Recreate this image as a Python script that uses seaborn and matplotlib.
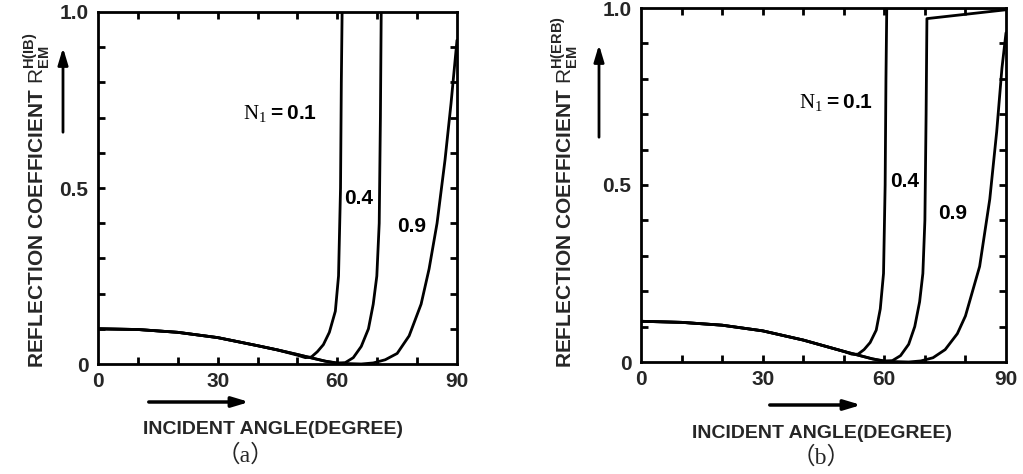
import numpy as np
import pandas as pd
import matplotlib
matplotlib.use("Agg")
import matplotlib.pyplot as plt
import seaborn as sns

sns.set_theme(style="ticks")
plt.rcParams['font.family'] = ['Liberation Sans', 'DejaVu Sans']
plt.rcParams['mathtext.fontset'] = 'custom'
plt.rcParams['mathtext.rm'] = 'Liberation Serif'
plt.rcParams['mathtext.sf'] = 'Liberation Sans'
plt.rcParams['mathtext.bf'] = 'Liberation Sans:bold'

# ---------------- data ----------------
# panel (a)
a_n01_x = [0, 10, 20, 30, 40, 45, 50, 52, 53.5, 55, 56.5, 58, 59.5, 60.3, 60.8, 61.0, 61.2]
a_n01_y = [0.10, 0.098, 0.09, 0.075, 0.052, 0.04, 0.025, 0.018, 0.02, 0.035, 0.055, 0.09, 0.15, 0.25, 0.5, 0.8, 1.0]
a_n04_x = [0, 10, 20, 30, 40, 45, 50, 54, 57, 60, 62, 64, 66, 67.8, 69.0, 69.9, 70.5, 70.8, 71.0]
a_n04_y = [0.10, 0.098, 0.09, 0.075, 0.052, 0.04, 0.027, 0.016, 0.008, 0.002, 0.004, 0.018, 0.05, 0.1, 0.17, 0.25, 0.4, 0.7, 1.0]
a_n09_x = [0, 10, 20, 30, 40, 45, 50, 54, 57, 60, 63, 66, 69, 72, 75, 78, 81, 83, 85, 87, 88.5, 90]
a_n09_y = [0.10, 0.098, 0.09, 0.075, 0.052, 0.04, 0.027, 0.016, 0.008, 0.003, 0.001, 0.0, 0.003, 0.012, 0.03, 0.08, 0.17, 0.27, 0.4, 0.58, 0.74, 0.92]

# panel (b)
b_n01_x = [0, 10, 20, 30, 40, 45, 50, 52, 53.5, 55, 56.5, 58, 59, 59.8, 60.2, 60.4, 60.6, 75, 90]
b_n01_y = [0.115, 0.112, 0.104, 0.088, 0.062, 0.046, 0.03, 0.022, 0.022, 0.035, 0.055, 0.09, 0.15, 0.25, 0.5, 0.8, 1.0, 1.0, 1.0]
b_n04_x = [0, 10, 20, 30, 40, 45, 50, 54, 57, 60, 62, 64, 66, 67.5, 68.7, 69.5, 70, 70.3, 70.5, 90]
b_n04_y = [0.115, 0.112, 0.104, 0.088, 0.062, 0.046, 0.03, 0.018, 0.009, 0.002, 0.004, 0.018, 0.05, 0.1, 0.17, 0.25, 0.4, 0.7, 0.97, 0.995]
b_n09_x = [0, 10, 20, 30, 40, 45, 50, 54, 57, 60, 63, 66, 69, 72, 75, 78, 80, 83.5, 86, 87.7, 89, 90]
b_n09_y = [0.115, 0.112, 0.104, 0.088, 0.062, 0.046, 0.03, 0.018, 0.009, 0.003, 0.001, 0.0, 0.003, 0.012, 0.035, 0.08, 0.13, 0.27, 0.46, 0.65, 0.83, 0.93]

x_ticks = [0, 30, 60, 90]
x_tick_labels = ["0", "30", "60", "90"]
y_ticks = [0, 0.5, 1.0]
y_tick_labels = ["0", "0.5", "1.0"]
x_tick_marks = [10, 20, 30, 40, 50, 60, 70, 80]
y_tick_marks = [0.1, 0.2, 0.3, 0.4, 0.5, 0.6, 0.7, 0.8, 0.9]

W, H = 1023, 474

panels = [
    dict(curves=[(a_n01_x, a_n01_y), (a_n04_x, a_n04_y), (a_n09_x, a_n09_y)],
         rect=[98 / W, 110 / H, 359 / W, 352 / H], sup="H(IB)", tag="（a）",
         labels=[(36.4, 0.71, "0.1"), (61.6, 0.47, "0.4"), (75.0, 0.39, "0.9")]),
    dict(curves=[(b_n01_x, b_n01_y), (b_n04_x, b_n04_y), (b_n09_x, b_n09_y)],
         rect=[641 / W, 112 / H, 365 / W, 354 / H], sup="H(ERB)", tag="（b）",
         labels=[(39.0, 0.73, "0.1"), (61.4, 0.51, "0.4"), (73.2, 0.42, "0.9")]),
]

fig = plt.figure(figsize=(W / 100, H / 100), dpi=100)

def fx(px):
    return px / W

def fy(py):
    return 1 - py / H

TICK_PX = 7

for i, p in enumerate(panels):
    ax = fig.add_axes(p["rect"])
    for cx, cy in p["curves"]:
        sns.lineplot(x=cx, y=cy, ax=ax, color="black", lw=2.0,
                     estimator=None, sort=False)
    ax.set_xlim(0, 90)
    ax.set_ylim(0, 1.0)
    ax.set_xticks(x_ticks)
    ax.set_yticks(y_ticks)
    ax.set_xticklabels(x_tick_labels, fontsize=15, fontweight="bold")
    ax.set_yticklabels(y_tick_labels, fontsize=15, fontweight="bold")
    ax.tick_params(axis="x", which="both", length=0, pad=6)
    ax.tick_params(axis="y", which="both", length=0, pad=7)
    for s in ax.spines.values():
        s.set_linewidth(2)
        s.set_color("black")

    # inward tick marks on all four sides (axis-fraction lengths)
    w_px = p["rect"][2] * W
    h_px = p["rect"][3] * H
    lx_frac = TICK_PX / h_px
    ly_frac = TICK_PX / w_px
    xt = ax.get_xaxis_transform()
    yt = ax.get_yaxis_transform()
    ax.vlines(x_tick_marks, 0, lx_frac, transform=xt, colors="black", lw=2,
              clip_on=False, zorder=6)
    ax.vlines(x_tick_marks, 1 - lx_frac, 1, transform=xt, colors="black", lw=2,
              clip_on=False, zorder=6)
    ax.hlines(y_tick_marks, 0, ly_frac, transform=yt, colors="black", lw=2,
              clip_on=False, zorder=6)
    ax.hlines(y_tick_marks, 1 - ly_frac, 1, transform=yt, colors="black", lw=2,
              clip_on=False, zorder=6)

    for k, (lx, ly, txt) in enumerate(p["labels"]):
        if k == 0:
            ax.text(lx, ly, r"$\mathrm{N}_{1}\mathbf{=" + txt + r"}$", fontsize=15,
                    color="black", ha="left", va="center")
        else:
            ax.text(lx, ly, txt, fontsize=15, fontweight="bold", color="black",
                    ha="left", va="center")

    # axis titles and arrows
    if i == 0:
        ylx, arx, ary0, ary1 = 37, 63, 135, 45
        xlc, xly, axx0, axx1, axy = 273, 430, 146, 252, 402
        tagx, tagy = 245, 456
    else:
        ylx, arx, ary0, ary1 = 565, 599, 140, 42
        xlc, xly, axx0, axx1, axy = 822, 433, 767, 864, 405
        tagx, tagy = 821, 458
    fig.text(fx(ylx), fy(368),
             "REFLECTION COEFFICIENT " + r"$\mathsf{R}^{\mathbf{" + p["sup"] + r"}}_{\mathbf{EM}}$",
             rotation=90, ha="center", va="bottom", fontsize=15, fontweight="bold")
    fig.add_artist(matplotlib.patches.FancyArrowPatch(
        (fx(arx), fy(ary0)), (fx(arx), fy(ary1)), transform=fig.transFigure,
        arrowstyle="-|>,head_length=10,head_width=3", lw=2, color="black"))
    fig.text(fx(xlc), fy(xly), "INCIDENT ANGLE(DEGREE)", ha="center", va="center",
             fontsize=14, fontweight="bold")
    fig.add_artist(matplotlib.patches.FancyArrowPatch(
        (fx(axx0), fy(axy)), (fx(axx1), fy(axy)), transform=fig.transFigure,
        arrowstyle="-|>,head_length=10,head_width=3", lw=2.5, color="black"))
    fig.text(fx(tagx), fy(tagy), p["tag"], ha="center", va="center", fontsize=17,
             family=["Liberation Serif", "Noto Sans CJK SC", "DejaVu Sans"])

fig.savefig("out.png", dpi=100, facecolor="white")
